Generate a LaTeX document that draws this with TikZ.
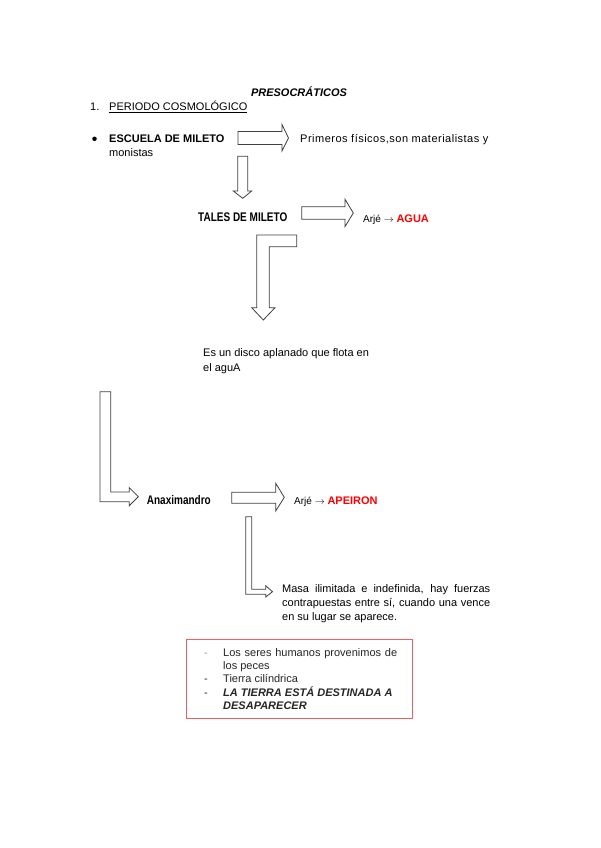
\documentclass[tikz,border=0pt]{standalone}
\usepackage{fontspec}
\setmainfont{Liberation Sans}
\newfontfamily\narrowfont[FakeStretch=0.8]{Liberation Sans}
\usetikzlibrary{positioning}
\definecolor{boxred}{RGB}{236,96,96}

\begin{document}
\begin{tikzpicture}[
  x=1pt,y=-1pt,
  txt/.style={inner sep=0pt,anchor=base west,font=\fontsize{11}{13}\selectfont},
  arj/.style={inner sep=0pt,anchor=base west,font=\fontsize{10}{12}\selectfont},
  nar/.style={inner sep=0pt,anchor=base west,font=\narrowfont\bfseries\fontsize{12.5}{14}\selectfont},
  lst/.style={inner sep=0pt,anchor=base west,font=\fontsize{11}{13}\selectfont,text=black!85},
  blk/.style={draw=black!75,fill=white,line width=0.8pt,line join=miter}
]
\fill[white] (0,0) rectangle (600,848);
\useasboundingbox (0,0) rectangle (600,848);

% heading
\node[txt,anchor=base,font=\bfseries\itshape\fontsize{11}{13}\selectfont] (title) at (299,97) {PRESOCRÁTICOS};
\node[txt] (num) at (90,111) {1.};
\node[txt] (periodo) at (109,111) {\underline{PERIODO COSMOLÓGICO}};

% escuela de mileto
\node[circle,fill=black,inner sep=0pt,minimum size=4.5pt] (dot) at (94.5,138.8) {};
\node[txt,font=\bfseries\fontsize{11}{13}\selectfont] (escuela) at (109,142.7) {ESCUELA DE MILETO};
\node[txt,font=\fontsize{11}{13}\selectfont\addfontfeature{LetterSpace=4.5}] (primeros) at (300,142.7) {Primeros físicos,son materialistas y};
\node[txt] (monistas) at (109,156.5) {monistas};

\draw[blk] (238,131.5) -- (282,131.5) -- (282,124.5) -- (288.5,138) -- (282,151) -- (282,144.5) -- (238,144.5) -- cycle;
\draw[blk] (237.7,156.3) -- (247.7,156.3) -- (247.7,191) -- (251.7,191) -- (242.7,198.3) -- (233.3,191) -- (237.7,191) -- cycle;

% tales
\node[nar] (tales) at (198,221.7) {TALES DE MILETO};
\node[arj] (arje1) at (363,222) {Arjé $\rightarrow$ \textcolor{red}{\bfseries\fontsize{11}{13}\selectfont AGUA}};
\draw[blk] (301.7,206.7) -- (345,206.7) -- (345,199.3) -- (353.3,213) -- (345,226.7) -- (345,219.3) -- (301.7,219.3) -- cycle;
\draw[blk] (296.7,235) -- (256.7,235) -- (256.7,307.7) -- (251.7,307.7) -- (263.3,320) -- (275,307.7) -- (269.3,307.7) -- (269.3,246.7) -- (296.7,246.7) -- cycle;

\node[txt] (disco) at (203,356.5) {Es un disco aplanado que flota en};
\node[txt,anchor=base west] (disco2) at ([yshift=-15pt]disco.base west) {el aguA};

% anaximandro
\draw[blk] (100,391.7) -- (110.7,391.7) -- (110.7,492) -- (129.3,492) -- (129.3,487.7) -- (138.3,496.7) -- (129.3,505.7) -- (129.3,501.7) -- (100,501.7) -- cycle;
\node[nar] (anax) at (146.7,504) {Anaximandro};
\draw[blk] (231.7,492.3) -- (275.7,492.3) -- (275.7,483.3) -- (284.3,497.3) -- (275.7,511) -- (275.7,503.3) -- (231.7,503.3) -- cycle;
\node[arj] (arje2) at (294,504) {Arjé $\rightarrow$ \textcolor{red}{\bfseries\fontsize{11}{13}\selectfont APEIRON}};
\draw[blk] (245.7,516.7) -- (251.7,516.7) -- (251.7,589.3) -- (265.7,589.3) -- (265.7,585.7) -- (272.5,591.7) -- (265.7,597) -- (265.7,594.3) -- (245.7,594.3) -- cycle;

\node[txt] (masa) at (282,592.7) {\makebox[208pt][s]{Masa ilimitada e indefinida, hay fuerzas}};
\node[txt] (masa2) at ([yshift=-14pt]masa.base west) {\makebox[208pt][s]{contrapuestas entre sí, cuando una vence}};
\node[txt] (masa3) at ([yshift=-14pt]masa2.base west) {en su lugar se aparece.};

% recuadro
\draw[boxred,line width=1.3pt] (186.7,639.3) rectangle (412.7,718.3);
\node[lst,text=black!40] (d1) at (204,656.5) {-};
\node[lst] (l1) at (223,656.5) {\makebox[174pt][s]{Los seres humanos provenimos de}};
\node[lst] (l1b) at ([yshift=-13pt]l1.base west) {los peces};
\node[lst] (d2) at (204,682.5) {-};
\node[lst] (l2) at (223,682.5) {Tierra cilíndrica};
\node[lst] (d3) at (204,696) {-};
\node[lst,font=\bfseries\itshape\fontsize{11}{13}\selectfont] (l3) at (223,696) {LA TIERRA ESTÁ DESTINADA A};
\node[lst,font=\bfseries\itshape\fontsize{11}{13}\selectfont] (l3b) at ([yshift=-13pt]l3.base west) {DESAPARECER};
\end{tikzpicture}
\end{document}
